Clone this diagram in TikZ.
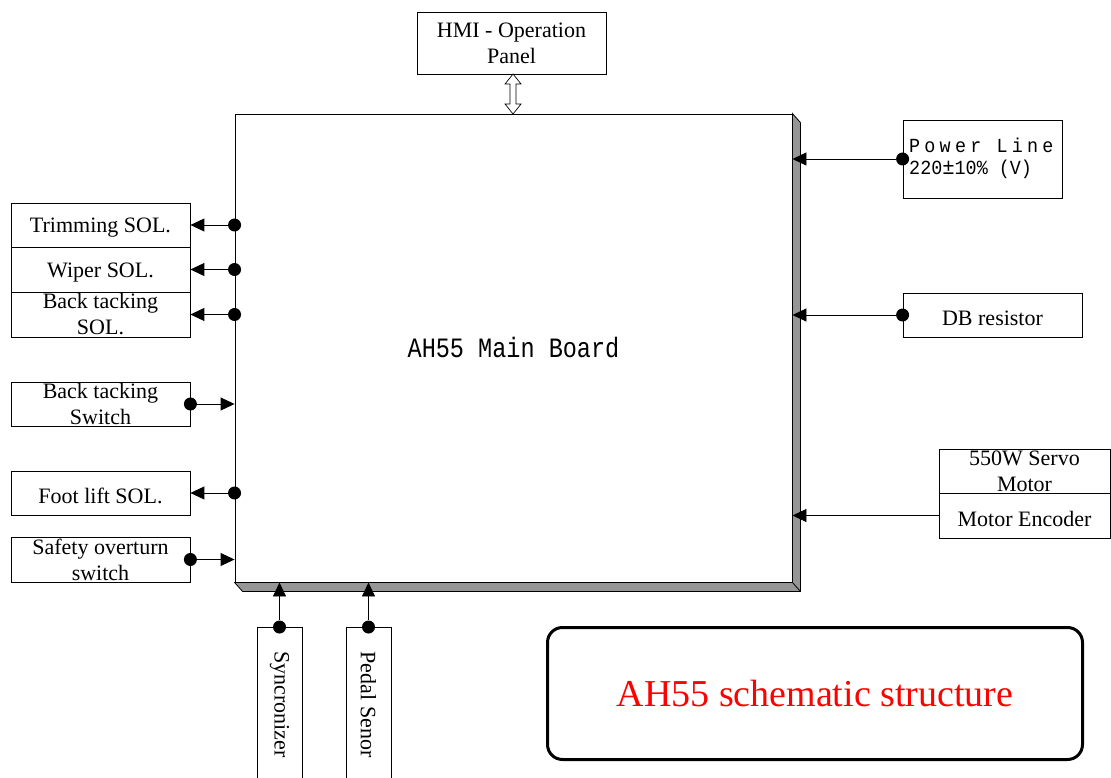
\documentclass[tikz,border=0pt]{standalone}
\usepackage{fontspec}
\setmainfont{Liberation Serif}
\newfontfamily\monofont{Liberation Mono}
\usetikzlibrary{arrows.meta,calc}
\definecolor{shadowgray}{RGB}{150,150,150}
\newcommand{\lowtxt}[1]{\raisebox{-3pt}[\height][\depth]{#1}}
\begin{document}
\begin{tikzpicture}[x=1pt,y=-1pt,
  box/.style={draw, line width=0.8pt, inner sep=0pt, align=center, font=\fontsize{22}{26}\selectfont},
  dot/.style={circle, fill=black, inner sep=0pt, minimum size=13pt},
  arr/.style={line width=0.9pt, -{Triangle[length=14pt,width=13pt]}}]
\useasboundingbox (0,0) rectangle (1111,778);
% main board with shadow
\node[draw, line width=0.9pt, minimum width=557pt, minimum height=468pt, inner sep=0pt,
  font=\monofont\fontsize{28}{30}\selectfont] (board) at (513.5,348) {\scalebox{0.84}[1]{AH55 Main Board}};
\filldraw[fill=shadowgray, draw=black, line width=0.8pt] (board.north east) -- ++(8,9) -- ($(board.south east)+(8,9)$)
  -- ($(board.south west)+(8,9)$) -- (board.south west) -- (board.south east) -- cycle;
\draw[line width=0.8pt] (board.south east) -- ++(8,9);
% HMI
\node[box, minimum width=189pt, minimum height=62pt] (hmi) at (511.5,43) {HMI - Operation\\Panel};
\coordinate (hA) at (513,74);
\coordinate (hB) at (513,114);
\filldraw[fill=white, draw=black, line width=0.7pt] (hA) -- ($(hA)+(8,10)$) -- ($(hA)+(3,10)$) -- ($(hB)+(3,-10)$)
  -- ($(hB)+(8,-10)$) -- (hB) -- ($(hB)+(-8,-10)$) -- ($(hB)+(-3,-10)$) -- ($(hA)+(-3,10)$) -- ($(hA)+(-8,10)$) -- cycle;
% left boxes
\node[box, minimum width=179pt, minimum height=44pt] (trim) at (100.5,225) {\lowtxt{Trimming SOL.}};
\node[box, minimum width=179pt, minimum height=45pt] (wiper) at (100.5,269.5) {\lowtxt{Wiper SOL.}};
\node[box, minimum width=179pt, minimum height=45pt] (btsol) at (100.5,314.5) {Back tacking\\SOL.};
\node[box, minimum width=179pt, minimum height=44pt] (btsw) at (100.5,404) {Back tacking\\Switch};
\node[box, minimum width=179pt, minimum height=44pt] (foot) at (100.5,493) {\lowtxt{Foot lift SOL.}};
\node[box, minimum width=179pt, minimum height=45pt] (safe) at (100.5,559.5) {Safety overturn\\switch};
\node[dot] (dtrim) at (board.west |- trim.east) {};
\node[dot] (dwiper) at (board.west |- wiper.east) {};
\node[dot] (dbtsol) at (board.west |- btsol.east) {};
\node[dot] (dfoot) at (board.west |- foot.east) {};
\node[dot] (dbtsw) at (btsw.east) {};
\node[dot] (dsafe) at (safe.east) {};
\draw[arr] (dtrim) -- (trim.east);
\draw[arr] (dwiper) -- (wiper.east);
\draw[arr] (dbtsol) -- (btsol.east);
\draw[arr] (dfoot) -- (foot.east);
\draw[arr] (dbtsw) -- (board.west |- dbtsw);
\draw[arr] (dsafe) -- (board.west |- dsafe);
% bottom boxes
\node[box, rotate=-90, minimum width=155pt, minimum height=45pt] (sync) at (279.5,704.5) {Syncronizer};
\node[box, rotate=-90, minimum width=155pt, minimum height=45pt] (pedal) at (368.5,704.5) {Pedal Senor};
\node[dot] (dsync) at (279.5,627) {};
\node[dot] (dpedal) at (368.5,627) {};
\draw[arr] (dsync) -- (dsync |- board.south);
\draw[arr] (dpedal) -- (dpedal |- board.south);
% right boxes
\node[draw, line width=0.8pt, minimum width=159pt, minimum height=78pt] (pow) at (982.5,159) {};
\node[anchor=west, inner sep=0pt, align=left, font=\monofont\fontsize{20}{22}\selectfont] (powtxt) at (909,158)
  {\scalebox{0.92}[1]{\addfontfeatures{LetterSpace=23}Power Line}\\\scalebox{0.92}[1]{220\scalebox{1.12}{±}10\% (V)}};
\node[box, minimum width=179pt, minimum height=44pt] (db) at (992.5,315) {\lowtxt{DB resistor}};
\node[box, minimum width=171pt, minimum height=44pt] (servo) at (1024.5,471) {550W Servo\\Motor};
\node[box, minimum width=171pt, minimum height=45pt] (enc) at (1024.5,515.5) {\lowtxt{Motor Encoder}};
\node[dot] (dpow) at (pow.west) {};
\node[dot] (ddb) at (db.west) {};
\draw[arr] (dpow) -- (board.east |- dpow);
\draw[arr] (ddb) -- (board.east |- ddb);
\draw[arr] (enc.west) -- (board.east |- enc.west);
% title
\node[draw, line width=3pt, rounded corners=15pt, minimum width=535pt, minimum height=132pt,
  text=red, font=\fontsize{38}{40}\selectfont] (title) at (815,693.5) {AH55 schematic structure};
\end{tikzpicture}
\end{document}
